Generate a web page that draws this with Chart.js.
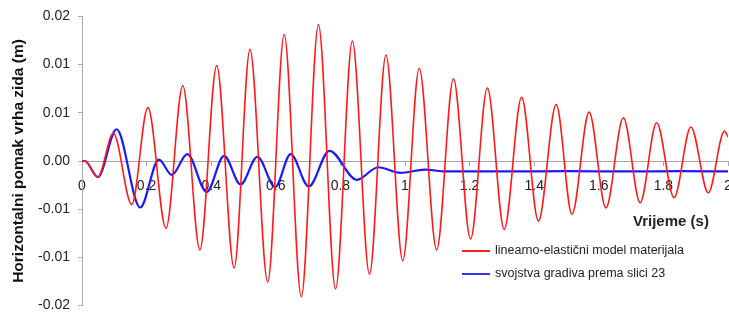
<!DOCTYPE html>
<html>
<head>
<meta charset="utf-8">
<script src="https://cdn.jsdelivr.net/npm/chart.js@4/dist/chart.umd.min.js"></script>
<style>
    body { margin: 0; background: #fff; }
    #wrap { position: relative; width: 729px; height: 322px; font-family: "Liberation Sans", Arial, sans-serif; color: #222; }
    #xTitle { position: absolute; left: 633px; top: 212px; font-weight: bold; font-size: 15px; }
    .leg { position: absolute; left: 462px; font-size: 12.5px; white-space: nowrap; }
    .leg span { display: inline-block; width: 28px; height: 2px; vertical-align: middle; margin-right: 5px; }
</style>
</head>
<body>
<div id="wrap">
    <canvas id="chart" width="729" height="322"></canvas>
    <div id="xTitle">Vrijeme (s)</div>
    <div class="leg" style="top:243px"><span style="background:#ff2020"></span>linearno-elastični model materijala</div>
    <div class="leg" style="top:266px"><span style="background:#3030ff"></span>svojstva gradiva prema slici 23</div>
</div>
<script>
// Red series - linear elastic model (extrema)
const redTime = [0, 0.009, 0.049, 0.097, 0.154, 0.204, 0.260, 0.312, 0.365, 0.417, 0.471, 0.520, 0.575, 0.626, 0.679,
    0.732, 0.785, 0.837, 0.890, 0.941, 0.993, 1.044, 1.098, 1.150, 1.203, 1.255, 1.307, 1.361, 1.413, 1.468,
    1.517, 1.570, 1.622, 1.676, 1.728, 1.779, 1.833, 1.885, 1.939, 1.989, 2.0];
const redDisp = [0, 0, -0.0020, 0.00345, -0.00542, 0.00666, -0.00838, 0.00937, -0.01106, 0.01187, -0.01332, 0.01389,
    -0.01508, 0.01574, -0.01689, 0.01698, -0.01594, 0.01492, -0.01409, 0.01319, -0.01242, 0.01155, -0.01106,
    0.01023, -0.00970, 0.00909, -0.00851, 0.00793, -0.00748, 0.00703, -0.00662, 0.00608, -0.00583, 0.00539,
    -0.00518, 0.00477, -0.00456, 0.00423, -0.00395, 0.00374, 0.0030];

// Blue series - material properties from figure 23
const blueTime = [0, 0.009, 0.049, 0.107, 0.180, 0.238, 0.278, 0.326, 0.386, 0.440, 0.491, 0.543, 0.598, 0.646,
    0.702, 0.766, 0.851, 0.917, 0.985, 1.062, 1.124, 1.3, 1.5, 1.7, 1.85, 2.0];
const blueDisp = [0, 0, -0.0020, 0.00395, -0.00579, 0.00018, -0.00173, 0.00086, -0.00386, 0.00065, -0.00292, 0.00053,
    -0.00324, 0.00086, -0.00317, 0.00127, -0.00234, -0.00078, -0.00148, -0.00107, -0.00129, -0.00130, -0.00126,
    -0.00130, -0.00126, -0.00130];

const yMin = -0.018, yMax = 0.018, yStep = 0.006;
const xMin = 0, xMax = 2, xStep = 0.2;

function toPoints(xs, ys) {
    return xs.map((x, i) => ({ x: x, y: ys[i] }));
}

const tickFont = { family: "'Liberation Sans', Arial, sans-serif", size: 14 };
const axisGray = "#a8a8a8";

new Chart(document.getElementById("chart"), {
    type: "line",
    data: {
        datasets: [{
            label: "linearno-elastični model materijala",
            data: toPoints(redTime, redDisp),
            borderColor: "#ff1a1a",
            borderWidth: 1.6
        }, {
            label: "svojstva gradiva prema slici 23",
            data: toPoints(blueTime, blueDisp),
            borderColor: "#1a1aff",
            borderWidth: 2.2
        }]
    },
    options: {
        responsive: false,
        animation: false,
        devicePixelRatio: 1,
        layout: { padding: { left: 0, top: 16, right: 1, bottom: 14 } },
        elements: {
            point: { radius: 0 },
            line: { cubicInterpolationMode: "monotone", fill: false }
        },
        plugins: { legend: { display: false }, tooltip: { enabled: false } },
        scales: {
            x: {
                type: "linear",
                min: xMin, max: xMax,
                position: { y: 0 },
                ticks: {
                    stepSize: xStep, autoSkip: false, maxRotation: 0, padding: 13,
                    font: tickFont, color: "#222",
                    callback: v => String(+v.toFixed(1))
                },
                grid: { drawOnChartArea: false, tickLength: 4, color: axisGray },
                border: { color: axisGray },
                afterFit: s => { s.paddingLeft = 0; s.paddingRight = 0; }
            },
            y: {
                min: yMin, max: yMax,
                ticks: {
                    stepSize: yStep, padding: 8, font: tickFont, color: "#222",
                    callback: v => (Math.abs(v) < 1e-9 ? 0 : v).toFixed(2)
                },
                grid: { drawOnChartArea: false, tickLength: 4, color: axisGray },
                border: { color: axisGray },
                title: {
                    display: true,
                    text: "Horizontalni pomak vrha zida (m)",
                    color: "#111",
                    font: { family: "'Liberation Sans', Arial, sans-serif", size: 15.5, weight: "bold" },
                    padding: { top: 9 }
                },
                afterFit: s => { s.width = 82; }
            }
        }
    }
});
</script>
</body>
</html>
